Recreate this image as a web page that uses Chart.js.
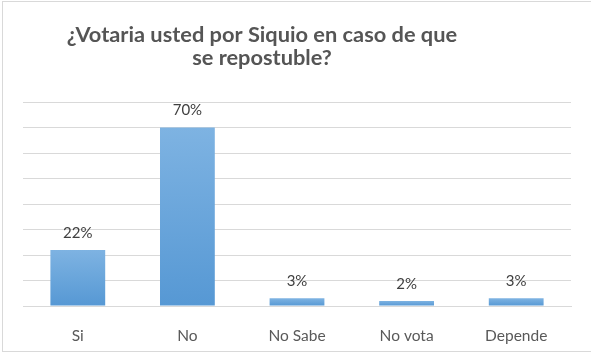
<!DOCTYPE html>
<html>
<head>
<meta charset="utf-8">
<script src="https://cdn.jsdelivr.net/npm/chart.js@4"></script>
<style>
html,body{margin:0;padding:0;background:#fff;}
#wrap{width:591px;height:356px;position:relative;}
</style>
</head>
<body>
<div id="wrap"><canvas id="c" width="591" height="356"></canvas></div>
<script>
const titleLines = ['¿Votaria usted por Siquio en caso de que', 'se repostuble?'];
const categories = ['Si', 'No', 'No Sabe', 'No vota', 'Depende'];
const values = [22, 70, 3, 2, 3];
const yTicks = [0, 10, 20, 30, 40, 50, 60, 70, 80];

const FONT = 'Lato, "Open Sans", "DejaVu Sans", sans-serif';

const framePlugin = {
  id: 'frame',
  beforeDraw(chart) {
    const c = chart.ctx;
    c.save();
    c.fillStyle = '#ffffff';
    c.fillRect(0, 0, chart.width, chart.height);
    c.strokeStyle = '#d9d9d9';
    c.lineWidth = 1;
    c.strokeRect(2.5, 1.5, chart.width, 350);
    c.restore();
  },
  afterDraw(chart) {
    const c = chart.ctx;
    c.save();
    c.fillStyle = '#555555';
    c.font = 'bold 21.8px ' + FONT;
    c.textAlign = 'center';
    c.textBaseline = 'middle';
    c.fillText(titleLines[0], 262, 35);
    c.fillText(titleLines[1], 262, 58);
    // data labels
    c.font = '15px ' + FONT;
    c.fillStyle = '#404040';
    const meta = chart.getDatasetMeta(0);
    meta.data.forEach((bar, i) => {
      c.fillText(values[i] + '%', bar.x, bar.y - 17);
    });
    c.restore();
  }
};

new Chart(document.getElementById('c'), {
  type: 'bar',
  data: {
    labels: categories,
    datasets: [{
      data: values,
      backgroundColor: (ctx) => {
        const chart = ctx.chart;
        const ca = chart.chartArea;
        if (!ca || ctx.raw === undefined) return '#5b9bd5';
        const y = chart.scales.y;
        const top = y.getPixelForValue(ctx.raw);
        const bottom = y.getPixelForValue(0);
        if (bottom - top < 1) return '#5b9bd5';
        const g = chart.ctx.createLinearGradient(0, top, 0, bottom);
        g.addColorStop(0, '#7eb3e2');
        g.addColorStop(1, '#5698d4');
        return g;
      },
      borderWidth: 0,
      categoryPercentage: 1,
      barPercentage: 0.5
    }]
  },
  options: {
    responsive: false,
    animation: false,
    devicePixelRatio: 1,
    layout: { padding: { top: 102, left: 23, right: 20, bottom: 0 } },
    plugins: {
      legend: { display: false },
      title: { display: false },
      tooltip: { enabled: false }
    },
    scales: {
      x: {
        grid: { display: false, drawTicks: false },
        border: { display: true, color: '#d9d9d9', width: 1 },
        ticks: { color: '#595959', font: { family: FONT, size: 15.5 }, padding: 21 },
        afterFit(s) { s.height = 50; }
      },
      y: {
        min: 0, max: 80,
        afterBuildTicks(s) { s.ticks = yTicks.map(v => ({ value: v })); },
        ticks: { display: false },
        grid: { color: '#d9d9d9', lineWidth: 1, drawTicks: false },
        border: { display: false },
        afterFit(s) { s.width = 0; }
      }
    }
  },
  plugins: [framePlugin]
});
</script>
</body>
</html>
